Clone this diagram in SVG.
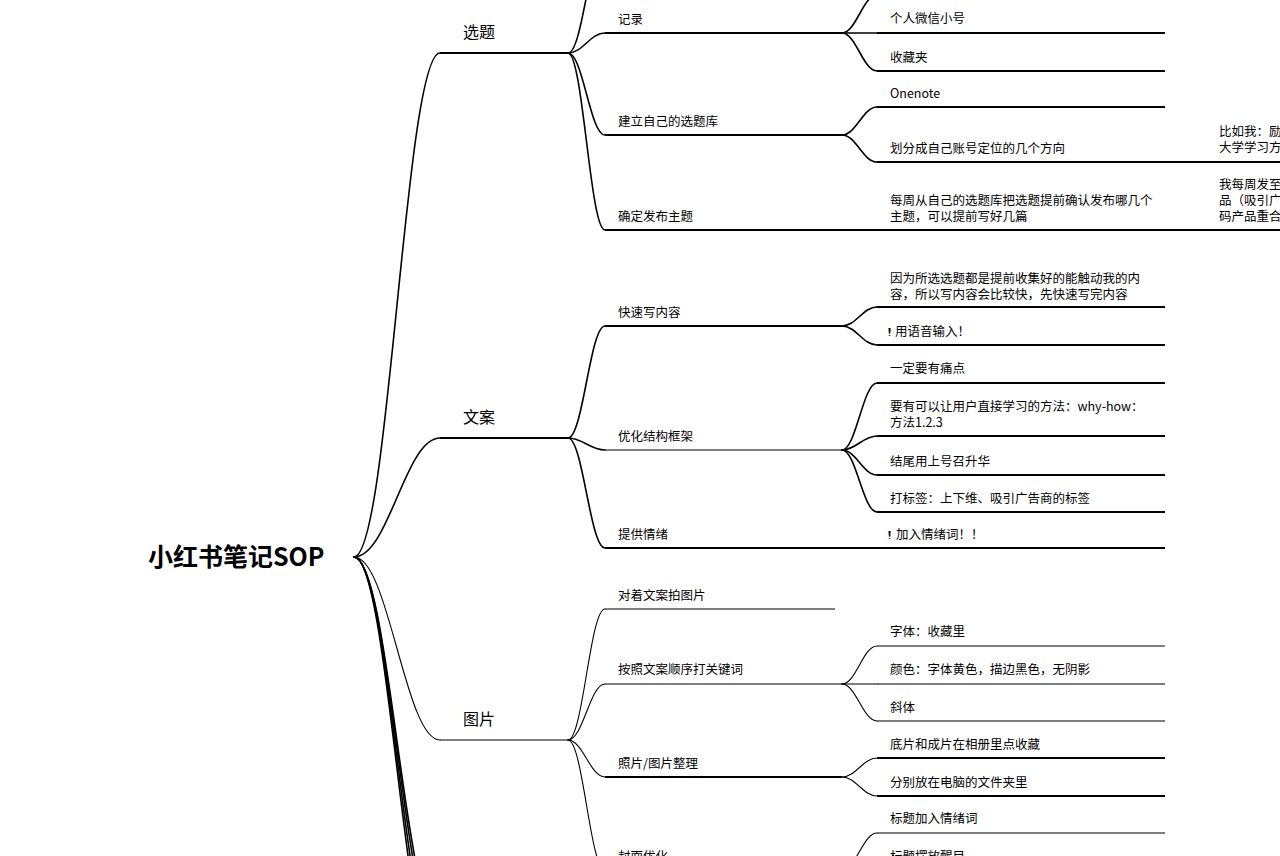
<svg xmlns="http://www.w3.org/2000/svg" width="1280" height="856" viewBox="0 0 1280 856">
<style>
text{font-family:"Noto Sans CJK SC","Noto Sans",sans-serif;fill:#000}
.root{font-size:25px;font-weight:700}
.l1{font-size:16px}
.t{font-size:12.5px}
.em{font-family:"DejaVu Sans",sans-serif;font-size:11px}
.c{fill:none;stroke:#000;stroke-width:1.6;stroke-linecap:round}
.u{fill:none;stroke:#000;stroke-width:1.8}
.thin{stroke-width:1.1}
</style>
<rect width="1280" height="856" fill="#fff"/>
<g id="connectors">
<path class="c" d="M354,557 C389,557 405,53 440,53"/>
<path class="c" d="M354,557 C389,557 405,438 440,438"/>
<path class="c thin" d="M354,557 C389,557 405,740 440,740"/>
<path class="c" d="M354,557 C389,557 405,925 440,925"/>
<path class="c" d="M354,557 C389,557 405,940 440,940"/>
<path class="c" d="M354,557 C389,557 405,960 440,960"/>
<path class="c" d="M354,557 C389,557 405,980 440,980"/>
<path class="u" d="M440,53 H568"/>
<path class="u" d="M440,438 H568"/>
<path class="u thin" d="M440,740 H568"/>
<path class="c" d="M568,53 C583,53 590,-60 605,-60"/>
<path class="c" d="M568,53 C583,53 590,33 605,33"/>
<path class="c" d="M568,53 C583,53 590,135 605,135"/>
<path class="c" d="M568,53 C583,53 590,230 605,230"/>
<path class="u" d="M605,33 H842"/>
<path class="u" d="M605,135 H842"/>
<path class="u" d="M605,230 H877"/>
<path class="c" d="M842,33 C856,33 863,-5 877,-5"/>
<path class="c" d="M842,33 H877"/>
<path class="c" d="M842,33 C856,33 863,71 877,71"/>
<path class="u" d="M877,33 H1165"/>
<path class="u" d="M877,71 H1165"/>
<path class="c" d="M842,135 C856,135 863,107 877,107"/>
<path class="c" d="M842,135 C856,135 863,162 877,162"/>
<path class="u" d="M877,107 H1165"/>
<path class="u" d="M877,162 H1280"/>
<path class="u" d="M877,230 H1280"/>
<path class="c" d="M568,438 C583,438 590,326 605,326"/>
<path class="c" d="M568,438 C583,438 590,450 605,450"/>
<path class="c" d="M568,438 C583,438 590,548 605,548"/>
<path class="u" d="M605,326 H842"/>
<path class="u thin" d="M605,450 H842"/>
<path class="u" d="M605,548 H1165"/>
<path class="c" d="M842,326 C856,326 863,307 877,307"/>
<path class="c" d="M842,326 C856,326 863,345 877,345"/>
<path class="u" d="M877,307 H1165"/>
<path class="u" d="M877,345 H1165"/>
<path class="c" d="M842,450 C856,450 863,383 877,383"/>
<path class="c" d="M842,450 C856,450 863,436 877,436"/>
<path class="c" d="M842,450 C856,450 863,475 877,475"/>
<path class="c" d="M842,450 C856,450 863,512 877,512"/>
<path class="u" d="M877,383 H1165"/>
<path class="u" d="M877,436 H1165"/>
<path class="u" d="M877,475 H1165"/>
<path class="u" d="M877,512 H1165"/>
<path class="c thin" d="M568,740 C583,740 590,609 605,609"/>
<path class="c thin" d="M568,740 C583,740 590,684 605,684"/>
<path class="c thin" d="M568,740 C583,740 590,777 605,777"/>
<path class="c thin" d="M568,740 C583,740 590,870 605,870"/>
<path class="u thin" d="M605,609 H835"/>
<path class="u thin" d="M605,684 H842"/>
<path class="u" d="M605,777 H842"/>
<path class="u" d="M605,870 H842"/>
<path class="c thin" d="M842,684 C856,684 863,646 877,646"/>
<path class="c thin" d="M842,684 H877"/>
<path class="c thin" d="M842,684 C856,684 863,721 877,721"/>
<path class="u thin" d="M877,646 H1165"/>
<path class="u thin" d="M877,684 H1165"/>
<path class="u thin" d="M877,721 H1165"/>
<path class="c thin" d="M842,777 C856,777 863,758 877,758"/>
<path class="c thin" d="M842,777 C856,777 863,796 877,796"/>
<path class="u" d="M877,758 H1165"/>
<path class="u" d="M877,796 H1165"/>
<path class="c thin" d="M842,870 C856,870 863,833 877,833"/>
<path class="u thin" d="M877,833 H1165"/>
</g>
<g id="root"><text class="root" x="148" y="566">小红书笔记SOP</text></g>
<g id="n-xuanti"><text class="l1" x="463" y="38">选题</text></g>
<g id="n-wenan"><text class="l1" x="463" y="423">文案</text></g>
<g id="n-tupian"><text class="l1" x="463" y="725">图片</text></g>
<g id="n-jilu"><text class="t" x="618" y="24">记录</text></g>
<g id="n-xuantiku"><text class="t" x="618" y="126">建立自己的选题库</text></g>
<g id="n-queding"><text class="t" x="618" y="221">确定发布主题</text></g>
<g id="n-weixin"><text class="t" x="890" y="23">个人微信小号</text></g>
<g id="n-shoucang"><text class="t" x="890" y="62">收藏夹</text></g>
<g id="n-onenote"><text class="t" x="890" y="98">Onenote</text></g>
<g id="n-huafen"><text class="t" x="890" y="153">划分成自己账号定位的几个方向</text></g>
<g id="n-biru"><text class="t" x="1219" y="136">比如我：励</text><text class="t" x="1219" y="152">大学学习方</text></g>
<g id="n-meizhou"><text class="t" x="890" y="205">每周从自己的选题库把选题提前确认发布哪几个</text><text class="t" x="890" y="221">主题，可以提前写好几篇</text></g>
<g id="n-wofa"><text class="t" x="1219" y="189">我每周发至</text><text class="t" x="1219" y="205">品（吸引广</text><text class="t" x="1219" y="221">码产品重合</text></g>
<g id="n-kuaisu"><text class="t" x="618" y="317">快速写内容</text></g>
<g id="n-youhua"><text class="t" x="618" y="441">优化结构框架</text></g>
<g id="n-tigong"><text class="t" x="618" y="539">提供情绪</text></g>
<g id="n-yinwei"><text class="t" x="890" y="283">因为所选选题都是提前收集好的能触动我的内</text><text class="t" x="890" y="299">容，所以写内容会比较快，先快速写完内容</text></g>
<g id="n-yuyin"><text class="t" x="888" y="336"><tspan class="em">❗︎</tspan><tspan dx="4">用语音输入！</tspan></text></g>
<g id="n-tongdian"><text class="t" x="890" y="373">一定要有痛点</text></g>
<g id="n-fangfa"><text class="t" x="890" y="411">要有可以让用户直接学习的方法：why-how：</text><text class="t" x="890" y="427">方法1.2.3</text></g>
<g id="n-jiewei"><text class="t" x="890" y="466">结尾用上号召升华</text></g>
<g id="n-biaoqian"><text class="t" x="890" y="503">打标签：上下维、吸引广告商的标签</text></g>
<g id="n-qingxuci"><text class="t" x="888" y="539"><tspan class="em">❗︎</tspan><tspan dx="5">加入情绪词！！</tspan></text></g>
<g id="n-duizhe"><text class="t" x="618" y="600">对着文案拍图片</text></g>
<g id="n-anzhao"><text class="t" x="618" y="674">按照文案顺序打关键词</text></g>
<g id="n-zhaopian"><text class="t" x="618" y="768">照片/图片整理</text></g>
<g id="n-fengmian"><text class="t" x="618" y="861">封面优化</text></g>
<g id="n-ziti"><text class="t" x="890" y="636">字体：收藏里</text></g>
<g id="n-yanse"><text class="t" x="890" y="674">颜色：字体黄色，描边黑色，无阴影</text></g>
<g id="n-xieti"><text class="t" x="890" y="712">斜体</text></g>
<g id="n-dipian"><text class="t" x="890" y="749">底片和成片在相册里点收藏</text></g>
<g id="n-fenbie"><text class="t" x="890" y="787">分别放在电脑的文件夹里</text></g>
<g id="n-biaoti1"><text class="t" x="890" y="823">标题加入情绪词</text></g>
<g id="n-biaoti2"><text class="t" x="890" y="861">标题摆放醒目</text></g>
</svg>
